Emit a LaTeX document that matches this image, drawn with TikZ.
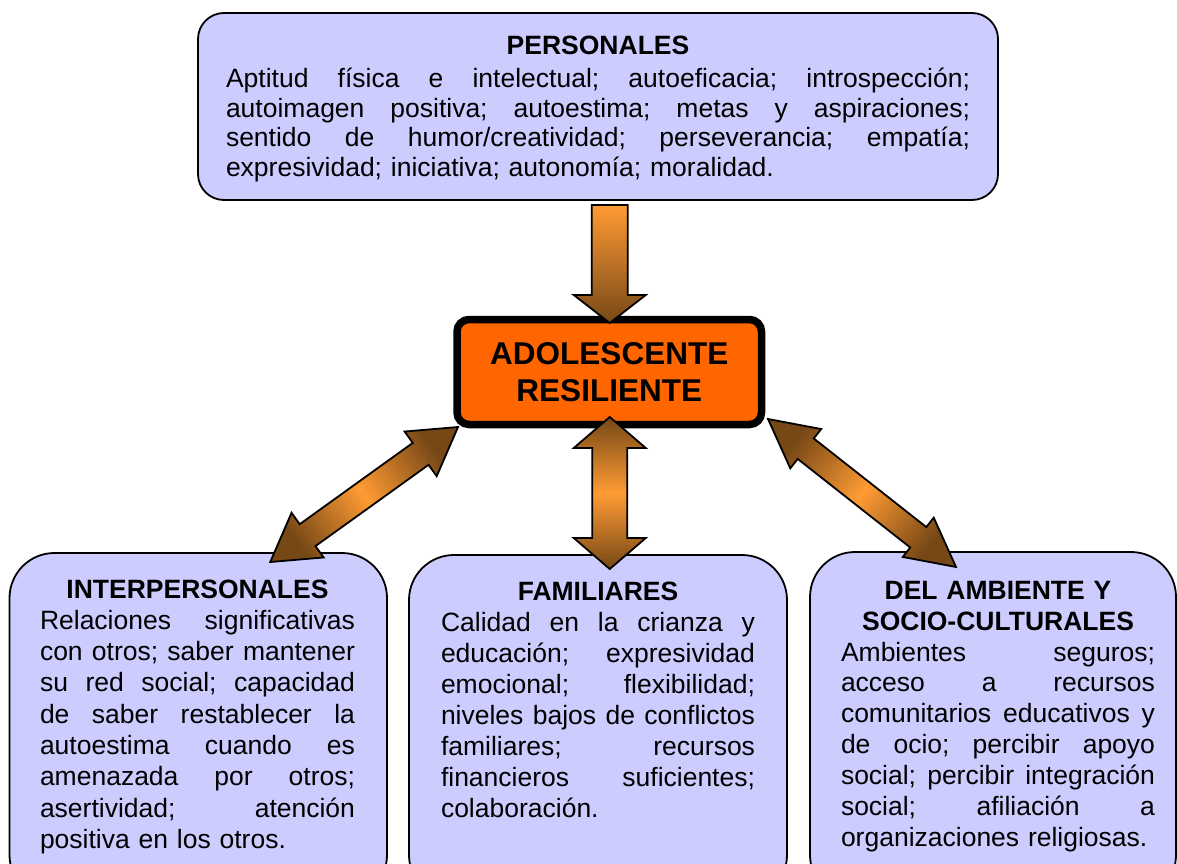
\documentclass[tikz,border=0pt]{standalone}
\usepackage{fontspec}
\setmainfont{Liberation Sans}
\usetikzlibrary{calc}
\definecolor{boxfill}{RGB}{204,204,255}
\definecolor{corefill}{RGB}{255,102,0}
\definecolor{alight}{RGB}{255,155,52}
\definecolor{adark}{RGB}{118,72,22}
\newcommand\jline[1]{\leavevmode\hbox to \linewidth{\frenchspacing\spaceskip=0.278em plus 1fil\relax #1}}
\newcommand\lastln[1]{\leavevmode\hbox to \linewidth{#1\hfil}}
\newcommand\mkhead[1]{\leavevmode\hbox to \linewidth{\hfil\bfseries #1\hfil}}
% double block arrow: #1 prefix, #2 tip A, #3 tip B, #4 head length, #5 head half width, #6 shaft half width, #7 style
\newcommand\dblarr[7]{%
  \coordinate (#1h1) at ($(#2)!#4!(#3)$);
  \coordinate (#1h2) at ($(#3)!#4!(#2)$);
  \path[#7] (#2) -- ($(#1h1)!#5!90:(#3)$) -- ($(#1h1)!#6!90:(#3)$)
    -- ($(#1h2)!#6!-90:(#2)$) -- ($(#1h2)!#5!-90:(#2)$) -- (#3)
    -- ($(#1h2)!#5!90:(#2)$) -- ($(#1h2)!#6!90:(#2)$)
    -- ($(#1h1)!#6!-90:(#3)$) -- ($(#1h1)!#5!-90:(#3)$) -- cycle;}
% single block arrow: #1 prefix, #2 tail, #3 tip, #4 head length, #5 head half width, #6 shaft half width, #7 style
\newcommand\snglarr[7]{%
  \coordinate (#1h) at ($(#3)!#4!(#2)$);
  \path[#7] (#3) -- ($(#1h)!#5!90:(#2)$) -- ($(#1h)!#6!90:(#2)$)
    -- ($(#2)!#6!-90:(#3)$) -- ($(#2)!#6!90:(#3)$)
    -- ($(#1h)!#6!-90:(#2)$) -- ($(#1h)!#5!-90:(#2)$) -- cycle;}
\begin{document}
\begin{tikzpicture}[x=1pt,y=-1pt,
  box/.style={draw=black, line width=1.8pt, fill=boxfill, rectangle, inner sep=0, outer sep=0},
  core/.style={draw=black, line width=7.5pt, fill=corefill, rectangle, rounded corners=12pt,
    inner sep=0, outer sep=0, align=center, font=\fontsize{31.5}{37}\selectfont\bfseries},
  txt/.style={anchor=north west, inner sep=0, outer sep=0, align=left,
    font=\fontsize{26.5}{31}\selectfont},
  toptxt/.style={txt, font=\fontsize{26.5}{29.8}\selectfont},
  arrline/.style={draw=black, line width=1.8pt, line join=miter},
  dshade/.style={arrline, top color=adark, bottom color=adark, middle color=alight}]
\useasboundingbox (0,0) rectangle (1177,864);
\clip (0,0) rectangle (1177,864);
\fill[white] (0,0) rectangle (1177,864);
% boxes
\node[box, rounded corners=26pt, minimum width=800, minimum height=187] (pers) at (598,106.5) {};
\node[box, rounded corners=45pt, minimum width=377.5, minimum height=347] (inter) at (198.25,726.5) {};
\node[box, rounded corners=45pt, minimum width=378, minimum height=345] (fam) at (598,727.5) {};
\node[box, rounded corners=45pt, minimum width=366, minimum height=348] (amb) at (993,726) {};
\node[core, minimum width=304.5, minimum height=105] (adol) at (609.25,372) {ADOLESCENTE\\RESILIENTE};
% texts
\node[toptxt, text width=744] (perst) at (226,36) {%
\mkhead{PERSONALES}\\[3pt]
\jline{Aptitud física e intelectual; autoeficacia; introspección;}\\
\jline{autoimagen positiva; autoestima; metas y aspiraciones;}\\
\jline{sentido de humor/creatividad; perseverancia; empatía;}\\
\lastln{expresividad; iniciativa; autonomía; moralidad.}};
\node[txt, text width=315, font=\fontsize{26.5}{31.3}\selectfont] (intert) at (40,579.5) {%
\mkhead{INTERPERSONALES}\\
\jline{Relaciones significativas}\\
\jline{con otros; saber mantener}\\
\jline{su red social; capacidad}\\
\jline{de saber restablecer la}\\
\jline{autoestima cuando es}\\
\jline{amenazada por otros;}\\
\jline{asertividad; atención}\\
\lastln{positiva en los otros.}};
\node[txt, text width=314] (famt) at (441,582) {%
\mkhead{FAMILIARES}\\
\jline{Calidad en la crianza y}\\
\jline{educación; expresividad}\\
\jline{emocional; flexibilidad;}\\
\jline{niveles bajos de conflictos}\\
\jline{familiares; recursos}\\
\jline{financieros suficientes;}\\
\lastln{colaboración.}};
\node[txt, text width=314, font=\fontsize{26.5}{30.9}\selectfont] (ambt) at (841,581) {%
\mkhead{DEL AMBIENTE Y}\\
\mkhead{SOCIO-CULTURALES}\\
\jline{Ambientes seguros;}\\
\jline{acceso a recursos}\\
\jline{comunitarios educativos y}\\
\jline{de ocio; percibir apoyo}\\
\jline{social; percibir integración}\\
\jline{social; afiliación a}\\
\lastln{organizaciones religiosas.}};
% connector end points
\coordinate (downtail) at ($(adol.north |- pers.south)+(0.5,5)$);
\coordinate (downtip) at ($(adol.north)+(0.5,3.5)$);
\coordinate (midtop) at ($(adol.south)+(0.5,-7.5)$);
\coordinate (midbot) at ($(adol.south |- fam.north)+(0.5,14)$);
\coordinate (ltop) at ($(adol.south west)+(1,2.5)$);
\coordinate (lbot) at ($(inter.north)+(72,9)$);
\coordinate (rtop) at ($(adol.south east)+(6.5,-5.5)$);
\coordinate (rbot) at ($(amb.north)+(-37,15)$);
% arrows
\snglarr{da}{downtail}{downtip}{28pt}{36pt}{18pt}{arrline, top color=alight, bottom color=adark}
\dblarr{ma}{midtop}{midbot}{31pt}{36pt}{17.5pt}{dshade}
\dblarr{la}{ltop}{lbot}{46pt}{27.5pt}{13.5pt}{dshade, shading angle=-54.3}
\dblarr{ra}{rtop}{rbot}{48pt}{25pt}{13pt}{dshade, shading angle=51.8}
\end{tikzpicture}
\end{document}
